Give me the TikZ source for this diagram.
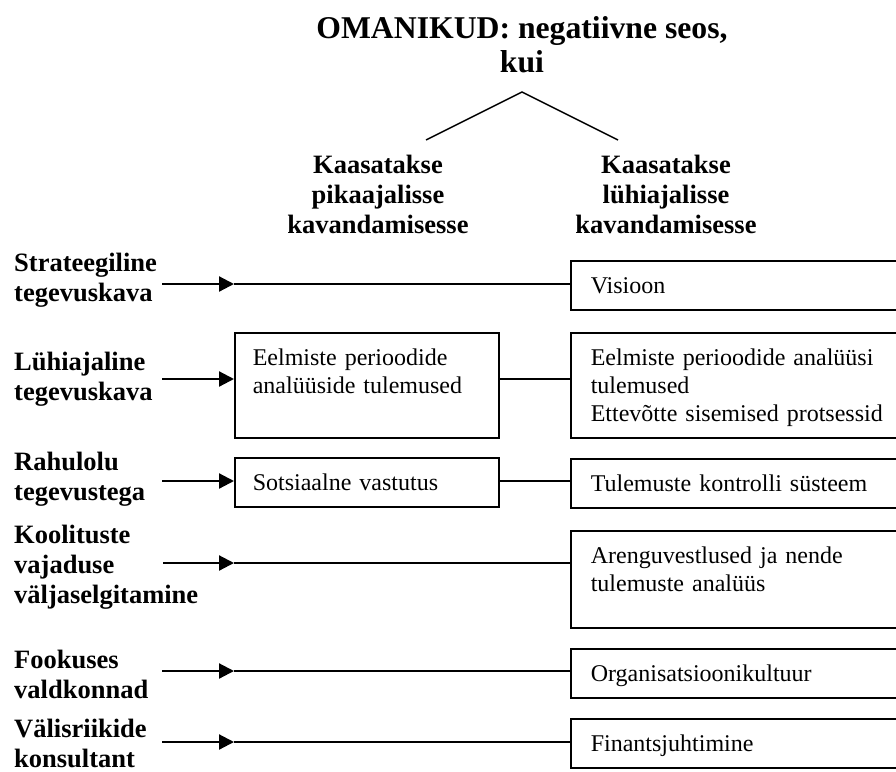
\documentclass[tikz,border=0pt]{standalone}
\usepackage{fontspec}
\setmainfont{Liberation Serif}
\usetikzlibrary{arrows.meta}
\begin{document}
\begin{tikzpicture}[x=1pt,y=-1pt,
  heading/.style={inner sep=0pt, anchor=base, align=center,
    font=\fontsize{26.5}{30}\selectfont\bfseries},
  rowlabel/.style={inner sep=0pt, anchor=base west, align=left,
    font=\fontsize{26.5}{30}\selectfont\bfseries},
  textbox/.style={draw, line width=1.6pt, anchor=north west, align=left,
    inner ysep=0pt, text height=33pt, font=\fontsize{24}{28}\selectfont},
  leftbox/.style={textbox, inner xsep=18pt, text width=228pt},
  rightbox/.style={textbox, inner xsep=20pt, text width=320pt},
  feed/.style={line width=2.2pt, -{Triangle[length=15pt,width=15pt]}},
  link/.style={line width=1.3pt},
  branch/.style={line width=1.5pt}
]
\useasboundingbox (0,0) rectangle (896,771);
\clip (0,0) rectangle (896,771);

% title and the two branches (multi-line nodes sit on their last baseline)
\node[inner sep=0pt, anchor=base, align=center,
      font=\fontsize{31.7}{34}\selectfont\bfseries] (title) at (522,72)
  {OMANIKUD: negatiivne seos,\\kui};
\coordinate (apex) at (522,92);
\coordinate (vl) at (426,140);
\coordinate (vr) at (618,140);
\draw[branch] (vl) -- (apex) -- (vr);

\node[heading] (hl) at (378,233) {Kaasatakse\\pikaajalisse\\kavandamisesse};
\node[heading] (hr) at (666,233) {Kaasatakse\\lühiajalisse\\kavandamisesse};

% row labels
\node[rowlabel] (l1) at (14,301) {Strateegiline\\tegevuskava};
\node[rowlabel] (l2) at (14,400) {Lühiajaline\\tegevuskava};
\node[rowlabel] (l3) at (14,500) {Rahulolu\\tegevustega};
\node[rowlabel] (l4) at (14,603) {Koolituste\\vajaduse\\väljaselgitamine};
\node[rowlabel] (l5) at (14,698) {Fookuses\\valdkonnad};
\node[rowlabel] (l6) at (14,767) {Välisriikide\\konsultant};

% boxes
\node[rightbox, text depth=16pt] (r1) at (570,260) {Visioon};
\node[leftbox, text depth=72pt] (m2) at (234,332) {Eelmiste perioodide\\analüüside tulemused};
\node[rightbox, text depth=72pt] (r2) at (570,332)
  {Eelmiste perioodide analüüsi\\tulemused\\Ettevõtte sisemised protsessid};
\node[leftbox, text depth=16pt] (m3) at (234,457) {Sotsiaalne vastutus};
\node[rightbox, text depth=16pt] (r3) at (570,458) {Tulemuste kontrolli süsteem};
\node[rightbox, text depth=64pt] (r4) at (570,530) {Arenguvestlused ja nende\\tulemuste analüüs};
\node[rightbox, text depth=16pt] (r5) at (570,648) {Organisatsioonikultuur};
\node[rightbox, text depth=16pt] (r6) at (570,718) {Finantsjuhtimine};

% arrow start points and tips
\coordinate (s1) at (162,284); \coordinate (t1) at (234,284);
\coordinate (s2) at (162,379);
\coordinate (s3) at (162,481);
\coordinate (s4) at (163,563); \coordinate (t4) at (234,563);
\coordinate (s5) at (162,671); \coordinate (t5) at (234,671);
\coordinate (s6) at (162,742); \coordinate (t6) at (234,742);

% connectors
\draw[feed] (s1) -- (t1);
\draw[link] (t1) -- (r1.west |- t1);

\draw[feed] (s2) -- (m2.west |- s2);
\draw[link] (m2.east |- s2) -- (r2.west |- s2);

\draw[feed] (s3) -- (m3.west |- s3);
\draw[link] (m3.east |- s3) -- (r3.west |- s3);

\draw[feed] (s4) -- (t4);
\draw[link] (t4) -- (r4.west |- t4);

\draw[feed] (s5) -- (t5);
\draw[link] (t5) -- (r5.west |- t5);

\draw[feed] (s6) -- (t6);
\draw[link] (t6) -- (r6.west |- t6);
\end{tikzpicture}
\end{document}
